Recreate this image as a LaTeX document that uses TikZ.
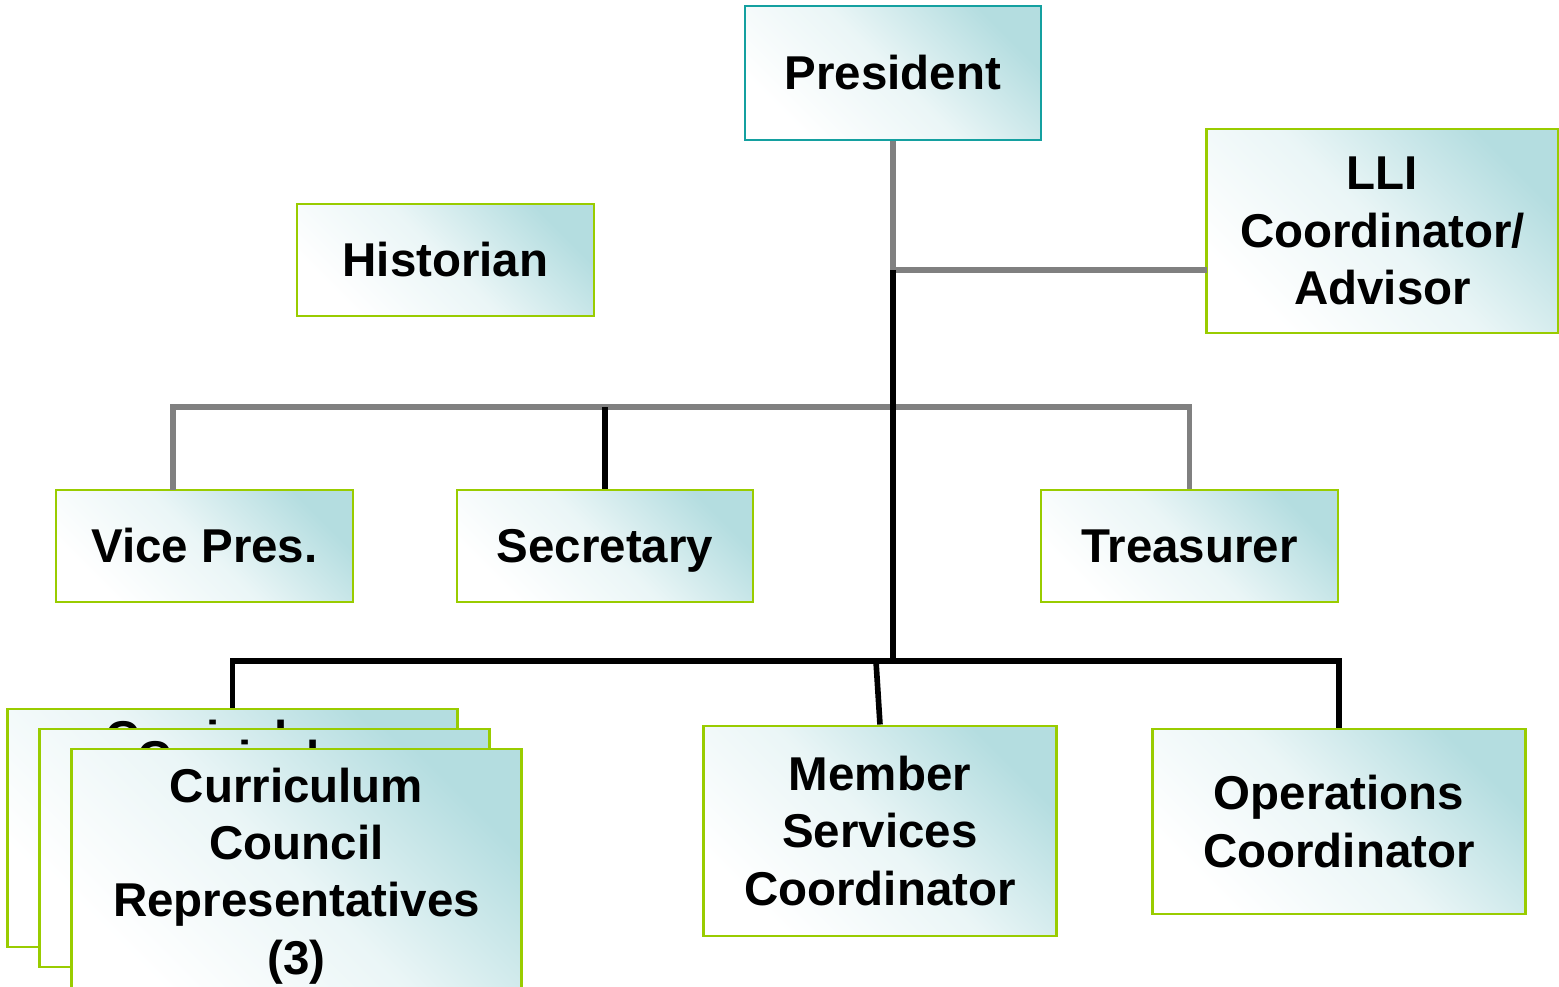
\documentclass[tikz,border=0pt]{standalone}
\usepackage{fontspec}
\setmainfont{Liberation Sans}
\definecolor{boxteal}{RGB}{180,221,224}
\definecolor{boxgreen}{RGB}{153,204,0}
\definecolor{presteal}{RGB}{20,160,160}
\definecolor{linegray}{RGB}{128,128,128}

\begin{document}
\begin{tikzpicture}[x=0.01cm,y=-0.01cm]
  \tikzset{office/.style={draw=boxgreen,line width=0.8pt,left color=white,right color=boxteal,
      middle color=white!72!boxteal,shading angle=135,align=center,inner sep=0pt,
      font=\fontsize{13.5}{16.3}\selectfont\bfseries},
    one line/.style={text height=0.92em,text depth=0pt}}
  \tikzset{gray link/.style={linegray,line width=1.6pt},black link/.style={black,line width=1.6pt}}
  \useasboundingbox (0,0) rectangle (1559,987);
  % officers
  \node[office,one line,draw=presteal,minimum width=2.96cm,minimum height=1.34cm] (pres) at (893,73) {President};
  \node[office,minimum width=3.51cm,minimum height=2.04cm] (lli) at (1382.5,231) {LLI\\Coordinator/\\Advisor};
  \node[office,one line,minimum width=2.97cm,minimum height=1.12cm] (hist) at (445.5,260) {Historian};
  \node[office,one line,minimum width=2.97cm,minimum height=1.12cm] (vp) at (204.5,546) {Vice Pres.};
  \node[office,one line,minimum width=2.96cm,minimum height=1.12cm] (sec) at (605,546) {Secretary};
  \node[office,one line,minimum width=2.97cm,minimum height=1.12cm] (treas) at (1189.5,546) {Treasurer};
  % coordinators
  \node[office,minimum width=4.49cm,minimum height=2.38cm] (curr back) at (232.5,828) {Curriculum\\Council\\Representatives\\(3)};
  \node[office,minimum width=4.49cm,minimum height=2.38cm] (curr mid) at (264.5,848) {Curriculum\\Council\\Representatives\\(3)};
  \node[office,minimum width=4.49cm,minimum height=2.54cm] (curr) at (296.5,876) {Curriculum\\Council\\Representatives\\(3)};
  \node[office,minimum width=3.52cm,minimum height=2.10cm] (member) at (880,831) {Member\\Services\\Coordinator};
  \node[office,minimum width=3.72cm,minimum height=1.85cm] (ops) at (1339,821.5) {Operations\\Coordinator};
  % links
  \coordinate (lli junction) at (893,270);
  \coordinate (lli port) at (1207,270);
  \coordinate (officer bus) at (893,407);
  \coordinate (staff bus) at (893,661);
  \coordinate (vp port) at (173,490);
  \coordinate (member port) at (876,661);
  \draw[gray link] (pres.south) |- (lli port);
  \draw[gray link] (vp port) -- (vp port |- officer bus) -| (treas.north);
  \draw[black link] (sec.north) -- (sec.north |- officer bus);
  \draw[black link] (lli junction) -- (staff bus);
  \draw[black link] (curr back.north) -- (curr back.north |- staff bus) -| (ops.north);
  \draw[black link] (member port) -- (member.north);
\end{tikzpicture}
\end{document}
